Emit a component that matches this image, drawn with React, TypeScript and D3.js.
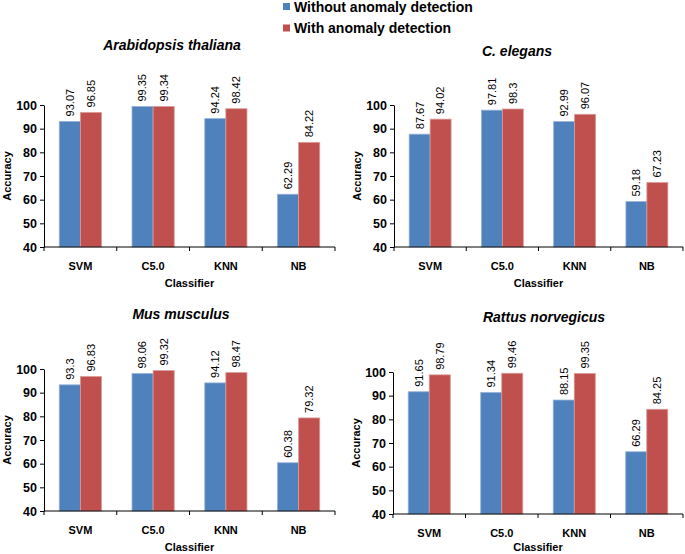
import { useEffect, useRef } from "react";
import * as d3 from "d3";

const CLASSIFIERS = ["SVM", "C5.0", "KNN", "NB"];
const SERIES = ["Without anomaly detection", "With anomaly detection"];
const Y_TICKS = [40, 50, 60, 70, 80, 90, 100];

const TITLES = ["Arabidopsis thaliana", "C. elegans", "Mus musculus", "Rattus norvegicus"];

const ARABIDOPSIS_WITHOUT = [93.07, 99.35, 94.24, 62.29];
const ARABIDOPSIS_WITH = [96.85, 99.34, 98.42, 84.22];
const ELEGANS_WITHOUT = [87.67, 97.81, 92.99, 59.18];
const ELEGANS_WITH = [94.02, 98.3, 96.07, 67.23];
const MUS_WITHOUT = [93.3, 98.06, 94.12, 60.38];
const MUS_WITH = [96.83, 99.32, 98.47, 79.32];
const RATTUS_WITHOUT = [91.65, 91.34, 88.15, 66.29];
const RATTUS_WITH = [98.79, 99.46, 99.35, 84.25];

const PANEL_VALUES = [
  [ARABIDOPSIS_WITHOUT, ARABIDOPSIS_WITH],
  [ELEGANS_WITHOUT, ELEGANS_WITH],
  [MUS_WITHOUT, MUS_WITH],
  [RATTUS_WITHOUT, RATTUS_WITH],
];

// pixel layout of each panel
const LAYOUT = [
  { left: 44, right: 335, top: 105, bottom: 247, titleX: 172, titleY: 45 },
  { left: 394, right: 683, top: 105, bottom: 247, titleX: 517, titleY: 51 },
  { left: 44, right: 335, top: 369, bottom: 511, titleX: 181, titleY: 314 },
  { left: 393, right: 683, top: 372, bottom: 514, titleX: 544, titleY: 317 },
];

const COLORS = ["#4f81bd", "#c0504d"];
const EDGES = ["#93b1d8", "#d89a98"];
const FONT = "'Liberation Sans', Arial, Helvetica, sans-serif";
const WIDTH = 685;
const HEIGHT = 554;

export default function App() {
  const svgRef = useRef<SVGSVGElement>(null);

  useEffect(() => {
    if (!svgRef.current) return;
    const svg = d3.select(svgRef.current);
    svg.selectAll("*").remove();
    svg.attr("width", WIDTH).attr("height", HEIGHT).style("font-family", FONT);

    // Legend
    SERIES.forEach((s, i) => {
      const g = svg.append("g").attr("transform", `translate(283, ${3 + i * 21.5})`);
      g.append("rect").attr("width", 7).attr("height", 7).attr("fill", COLORS[i]);
      g.append("text").attr("x", 11).attr("y", 8.5)
        .attr("font-size", "14px").attr("font-weight", "bold").attr("fill", "#000")
        .text(s);
    });

    LAYOUT.forEach((lay, p) => {
      const [without, withAd] = PANEL_VALUES[p];
      const g = svg.append("g");

      const pad = 0.42;
      const x = d3.scaleBand<string>()
        .domain(CLASSIFIERS)
        .range([lay.left, lay.right])
        .paddingInner(pad)
        .paddingOuter(pad / 2);
      const sub = d3.scaleBand<number>()
        .domain([0, 1])
        .range([0, x.bandwidth()]);
      const y = d3.scaleLinear().domain([40, 100]).range([lay.bottom, lay.top]);

      // Title
      g.append("text")
        .attr("x", lay.titleX).attr("y", lay.titleY)
        .attr("dy", "0.35em").attr("text-anchor", "middle")
        .attr("font-size", "14px").attr("font-weight", "bold").attr("font-style", "italic")
        .text(TITLES[p]);

      // Bars + labels
      CLASSIFIERS.forEach((c, ci) => {
        [without[ci], withAd[ci]].forEach((v, si) => {
          const bx = x(c)! + sub(si)!;
          const bw = sub.bandwidth();
          g.append("rect")
            .attr("x", bx).attr("y", y(v))
            .attr("width", bw).attr("height", y(40) - y(v))
            .attr("fill", COLORS[si])
            .attr("stroke", EDGES[si]).attr("stroke-width", 0.8);
          const cx = bx + bw / 2;
          const ty = y(v) - 5;
          g.append("text")
            .attr("transform", `translate(${cx},${ty}) rotate(-90)`)
            .attr("dy", "0.35em")
            .attr("font-size", "11px").attr("fill", "#000")
            .text(String(v));
        });
      });

      // Y axis
      const yAxis = g.append("g")
        .attr("transform", `translate(${lay.left},0)`)
        .call(d3.axisLeft(y).tickValues(Y_TICKS).tickSize(4).tickSizeOuter(0).tickPadding(3));
      yAxis.selectAll("text")
        .attr("font-size", "12.5px").attr("font-weight", "bold").attr("fill", "#000")
        .style("font-family", FONT);
      yAxis.selectAll("line, path").attr("stroke", "#000");

      // X axis line with ticks at category boundaries
      const x0 = x.range()[0];
      g.append("line")
        .attr("x1", x0).attr("x2", lay.right)
        .attr("y1", y(40)).attr("y2", y(40))
        .attr("stroke", "#000");
      d3.range(CLASSIFIERS.length + 1).forEach((i) => {
        const tx = x0 + i * x.step();
        g.append("line")
          .attr("x1", tx).attr("x2", tx)
          .attr("y1", y(40)).attr("y2", y(40) + 4)
          .attr("stroke", "#000");
      });
      CLASSIFIERS.forEach((c) => {
        g.append("text")
          .attr("x", x(c)! + x.bandwidth() / 2).attr("y", y(40) + 19)
          .attr("dy", "0.35em").attr("text-anchor", "middle")
          .attr("font-size", "11px").attr("font-weight", "bold")
          .text(c);
      });

      // Axis titles
      g.append("text")
        .attr("x", (lay.left + lay.right) / 2).attr("y", Math.min(y(40) + 36, HEIGHT - 7))
        .attr("dy", "0.35em").attr("text-anchor", "middle")
        .attr("font-size", "11px").attr("font-weight", "bold")
        .text("Classifier");
      g.append("text")
        .attr("transform", `translate(${lay.left - 37},${(lay.top + lay.bottom) / 2}) rotate(-90)`)
        .attr("dy", "0.35em").attr("text-anchor", "middle")
        .attr("font-size", "11px").attr("font-weight", "bold")
        .text("Accuracy");
    });
  }, []);

  return (
    <div style={{ position: "absolute", left: 0, top: 0, background: "#fff" }}>
      <svg ref={svgRef} />
    </div>
  );
}
